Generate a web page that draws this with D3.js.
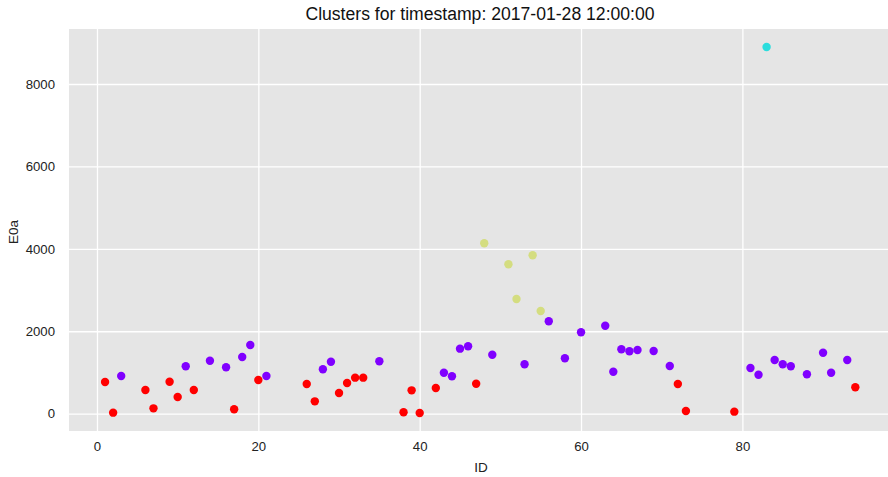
<!DOCTYPE html>
<html>
<head>
<meta charset="utf-8">
<script src="https://cdn.jsdelivr.net/npm/d3@7"></script>
<style>
  html, body { margin: 0; padding: 0; background: #fff; }
  svg { display: block; font-family: "Liberation Sans", Arial, sans-serif; }
</style>
</head>
<body>
<svg id="chart" width="888" height="477"></svg>
<script>
// Row IDs, E0a values and cluster assignments
const ids = [1, 2, 3, 6, 7, 9, 10, 11, 12, 14, 16, 17, 18, 19, 20, 21,
  26, 27, 28, 29, 30, 31, 32, 33, 35, 38, 39, 40, 42, 43, 44, 45, 46, 47,
  48, 49, 51, 52, 53, 54, 55, 56, 58, 60, 63, 64, 65, 66, 67, 69, 71, 72,
  73, 79, 81, 82, 83, 84, 85, 86, 88, 90, 91, 93, 94];
const e0a = [770, 25, 915, 575, 130, 776, 405, 1150, 575, 1286, 1126, 107, 1376, 1667, 818, 915,
  721, 300, 1077, 1262, 502, 745, 874, 874, 1271, 34, 567, 17, 624, 995, 907, 1578, 1635, 728,
  4135, 1432, 3625, 2783, 1198, 3843, 2492, 2242, 1344, 1975, 2135, 1019, 1563, 1514, 1546, 1522, 1157, 721,
  66, 49, 1109, 946, 8898, 1303, 1198, 1150, 956, 1480, 995, 1303, 640];
const cluster = [3, 3, 0, 3, 3, 3, 3, 0, 3, 0, 0, 3, 0, 0, 3, 0,
  3, 3, 0, 0, 3, 3, 3, 3, 0, 3, 3, 3, 3, 0, 0, 0, 0, 3,
  2, 0, 2, 2, 0, 2, 2, 0, 0, 0, 0, 0, 0, 0, 0, 0, 0, 3,
  3, 3, 0, 0, 1, 0, 0, 0, 0, 0, 0, 0, 3];
const xTicks = [0, 20, 40, 60, 80];
const yTicks = [0, 2000, 4000, 6000, 8000];
const clusterColors = ["#8000ff", "#2bdddd", "#d4dd80", "#ff0000"];

const title = "Clusters for timestamp: 2017-01-28 12:00:00";

const svg = d3.select("#chart");
const plot = { left: 69, right: 888, top: 29, bottom: 431 };

const x = d3.scaleLinear().domain([-3.47, 98.05]).range([plot.left, plot.right]);
const y = d3.scaleLinear().domain([-420, 9335]).range([plot.bottom, plot.top]);

// panel background
svg.append("rect")
  .attr("x", plot.left).attr("y", plot.top)
  .attr("width", plot.right - plot.left).attr("height", plot.bottom - plot.top)
  .attr("fill", "#e5e5e5");

// grid lines via axes with full-length ticks
const gx = svg.append("g")
  .attr("transform", `translate(0,${plot.bottom})`)
  .call(d3.axisBottom(x).tickValues(xTicks).tickSize(-(plot.bottom - plot.top)).tickPadding(11).tickFormat(d3.format("d")));
const gy = svg.append("g")
  .attr("transform", `translate(${plot.left},0)`)
  .call(d3.axisLeft(y).tickValues(yTicks).tickSize(-(plot.right - plot.left)).tickPadding(14).tickFormat(d3.format("d")));

[gx, gy].forEach(g => {
  g.select(".domain").remove();
  g.selectAll(".tick line").attr("stroke", "#ffffff").attr("stroke-width", 1.3);
  g.selectAll(".tick text").attr("fill", "#222").style("font-size", "13.2px");
});

// points
const pts = ids.map((id, i) => ({ id, v: e0a[i], c: cluster[i] }));
svg.append("g").selectAll("circle")
  .data(pts).join("circle")
  .attr("cx", d => x(d.id))
  .attr("cy", d => y(d.v))
  .attr("r", 4.2)
  .attr("fill", d => clusterColors[d.c]);

// title and axis labels
svg.append("text")
  .attr("x", 480).attr("y", 20)
  .attr("text-anchor", "middle")
  .attr("fill", "#111")
  .style("font-size", "17.6px")
  .text(title);

svg.append("text")
  .attr("x", 481).attr("y", 472)
  .attr("text-anchor", "middle")
  .attr("fill", "#222")
  .style("font-size", "13.5px")
  .text("ID");

svg.append("text")
  .attr("transform", "translate(18,232) rotate(-90)")
  .attr("text-anchor", "middle")
  .attr("fill", "#222")
  .style("font-size", "13.5px")
  .text("E0a");
</script>
</body>
</html>
